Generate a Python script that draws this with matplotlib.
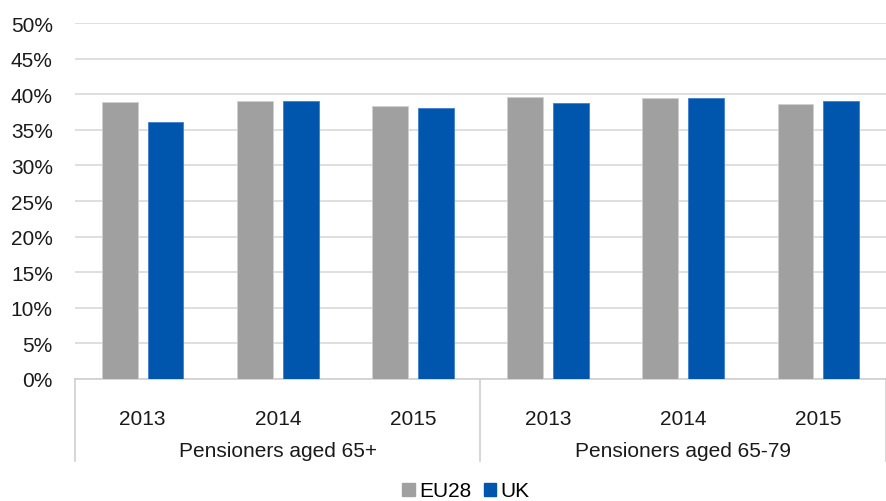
import numpy as np
import matplotlib.pyplot as plt
from matplotlib.patches import Patch

plt.rcParams['font.family'] = ['Liberation Sans', 'DejaVu Sans']

# data
years = ['2013', '2014', '2015', '2013', '2014', '2015']
groups = ['Pensioners aged 65+', 'Pensioners aged 65-79']
eu28 = [38.9, 39.1, 38.3, 39.6, 39.4, 38.6]
uk = [36.1, 39.1, 38.0, 38.7, 39.5, 39.1]

gray = '#a0a0a0'
blue = '#0055ad'
txt = '#1a1a1a'
fs = 15

fig = plt.figure(figsize=(8.86, 5.02), dpi=100)
ax = fig.add_axes([75/886, 122/502, 811/886, 356/502])

x = np.arange(len(years))
w = 0.265
ax.bar(x - 0.17, eu28, width=w, color=gray, edgecolor='#d0d0d0', linewidth=0.6, zorder=3)
ax.bar(x + 0.17, uk, width=w, color=blue, edgecolor='#3f7fd0', linewidth=0.6, zorder=3)

ax.set_xlim(-0.5, len(years) - 0.5)
ax.set_ylim(0, 50)
ax.set_yticks(np.arange(0, 51, 5))
ax.set_yticklabels([f'{v}%' for v in range(0, 51, 5)], fontsize=fs, color=txt)
ax.yaxis.grid(True, color='#d9d9d9', linewidth=1.2, zorder=0)
ax.tick_params(axis='y', length=0, pad=16)
ax.tick_params(axis='x', length=0)
ax.set_xticks([])
for s in ['top', 'right', 'left']:
    ax.spines[s].set_visible(False)
ax.spines['bottom'].set_color('#d0d0d0')
ax.spines['bottom'].set_linewidth(1.2)

# category axis labels
trans = ax.get_xaxis_transform()
for i, y in enumerate(years):
    ax.text(i, -40/356, y, transform=trans, ha='center', va='center', fontsize=fs, color=txt)
for g, name in enumerate(groups):
    ax.text(g * 3 + 1, -72/356, name, transform=trans, ha='center', va='center', fontsize=fs, color=txt)
for xs in [-0.5, 2.5, 5.5]:
    ax.plot([xs, xs], [0, -82/356], transform=trans, color='#d0d0d0', linewidth=1.2, clip_on=False)

fig.legend(handles=[Patch(color=gray, label='EU28'), Patch(color=blue, label='UK')],
           loc='center', bbox_to_anchor=(466/886, 1 - 492/502), ncol=2, frameon=False,
           fontsize=fs, handlelength=0.6, handleheight=0.6, handletextpad=0.2, columnspacing=0.6)

fig.savefig('out.png', dpi=100)
